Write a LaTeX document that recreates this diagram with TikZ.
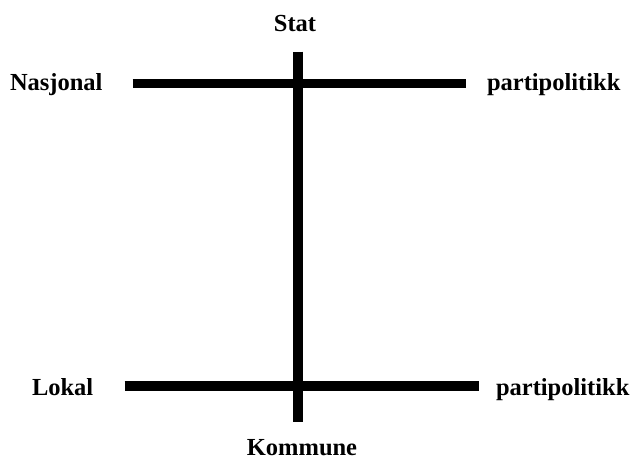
\documentclass[tikz,border=0pt]{standalone}
\usepackage{fontspec}
\setmainfont{Liberation Serif}
\begin{document}
\begin{tikzpicture}[x=1pt,y=-1pt,
  lbl/.style={font=\fontsize{24.5}{28}\selectfont\bfseries, inner sep=0pt, outer sep=0pt},
  bar/.style={line width=9.5pt, line cap=butt}]
\useasboundingbox (0,0) rectangle (630,461);
% labels
\node[lbl, anchor=base] (stat) at (295,31.5) {Stat};
\node[lbl, anchor=base west] (nasj) at (10,90) {Nasjonal};
\node[lbl, anchor=base west] (pp1) at (487,90) {partipolitikk};
\node[lbl, anchor=base west] (lokal) at (32,395.5) {Lokal};
\node[lbl, anchor=base west] (pp2) at (496,395.5) {partipolitikk};
\node[lbl, anchor=base] (komm) at (302,455) {Kommune};
% bar ends
\coordinate (vtop) at (298,51.5);
\coordinate (vbot) at (298,421.5);
\coordinate (t1) at (132.5,83.3);
\coordinate (t2) at (466,83.3);
\coordinate (b1) at (124.5,386);
\coordinate (b2) at (478.5,386);
\draw[bar] (t1) -- (t2);
\draw[bar] (b1) -- (b2);
\draw[bar] (vtop) -- (vbot);
\end{tikzpicture}
\end{document}
